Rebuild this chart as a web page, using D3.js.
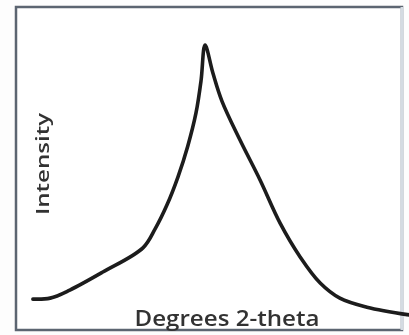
<!DOCTYPE html>
<html lang="en">
	<head>
		<meta charset="utf-8">
		<title>XRD peak</title>
		<script type="text/javascript" src="https://d3js.org/d3.v7.min.js"></script>
		<style>
			body { margin: 0; background: #fdfdfd; }
			.frame { fill: #ffffff; stroke: #5b6571; stroke-width: 2.5; }
			.peak { fill: none; stroke: #1c1c1c; stroke-width: 3.6; stroke-linejoin: round; stroke-linecap: round; }
			.label { font-family: "Open Sans", sans-serif; font-weight: 600; fill: #333333; }
		</style>
	</head>
	<body>
		<script type="text/javascript">

			var w = 409;
			var h = 335;

			// Degrees 2-theta (arbitrary 0-100) and intensity (arbitrary 0-100)
			var theta = [4.3, 8.7, 13.7, 22.1, 32.3, 35.4, 38.4, 41.2, 43.7, 45.8, 47.1, 48.1,
			             50.1, 52.4, 57.0, 62.1, 67.2, 72.3, 77.4, 82.4, 89.3, 100];
			var intensity = [9.6, 9.9, 12.4, 18.0, 25.5, 31.4, 38.8, 47.5, 57.1, 67.4, 77.6, 88.5,
			                 79.8, 71.1, 59.0, 46.6, 33.2, 22.7, 14.6, 9.9, 7.1, 4.7];

			var xLabel = "Degrees 2-theta";
			var yLabel = "Intensity";

			var dataset = theta.map(function(t, i) { return { x: t, y: intensity[i] }; });

			// split at the peak so the apex stays sharp
			var top = d3.maxIndex(dataset, function(d) { return d.y; });
			var leftSide = dataset.slice(0, top + 1);
			var rightSide = dataset.slice(top);

			var xScale = d3.scaleLinear().domain([0, 100]).range([16, 409]);
			var yScale = d3.scaleLinear().domain([0, 100]).range([330, 8]);

			var svg = d3.select("body")
						.append("svg")
						.attr("width", w)
						.attr("height", h);

			var defs = svg.append("defs");
			defs.append("filter").attr("id", "soft")
				.append("feGaussianBlur").attr("stdDeviation", 0.6);

			var g = svg.append("g").attr("filter", "url(#soft)");

			//Frame
			g.append("rect")
				.attr("class", "frame")
				.attr("x", 16)
				.attr("y", 7)
				.attr("width", 386)
				.attr("height", 323);

			// right edge is faint in the picture
			g.append("line")
				.attr("x1", 402).attr("x2", 402)
				.attr("y1", 7).attr("y2", 330)
				.attr("stroke", "#d4dbe2")
				.attr("stroke-width", 3);

			//Axis labels
			g.append("text")
				.attr("class", "label")
				.attr("x", 227)
				.attr("y", 326)
				.attr("text-anchor", "middle")
				.attr("textLength", 185)
				.attr("lengthAdjust", "spacingAndGlyphs")
				.style("font-size", "21px")
				.text(xLabel);

			g.append("text")
				.attr("class", "label")
				.attr("transform", "translate(49,164) rotate(-90)")
				.attr("text-anchor", "middle")
				.attr("textLength", 102)
				.attr("lengthAdjust", "spacingAndGlyphs")
				.style("font-size", "18px")
				.text(yLabel);

			//Peak line
			var line = d3.line()
						.curve(d3.curveCatmullRom.alpha(0.5))
						.x(function(d) { return xScale(d.x); })
						.y(function(d) { return yScale(d.y); });

			g.append("path").datum(leftSide).attr("class", "peak").attr("d", line);
			g.append("path").datum(rightSide).attr("class", "peak").attr("d", line);

		</script>
	</body>
</html>
